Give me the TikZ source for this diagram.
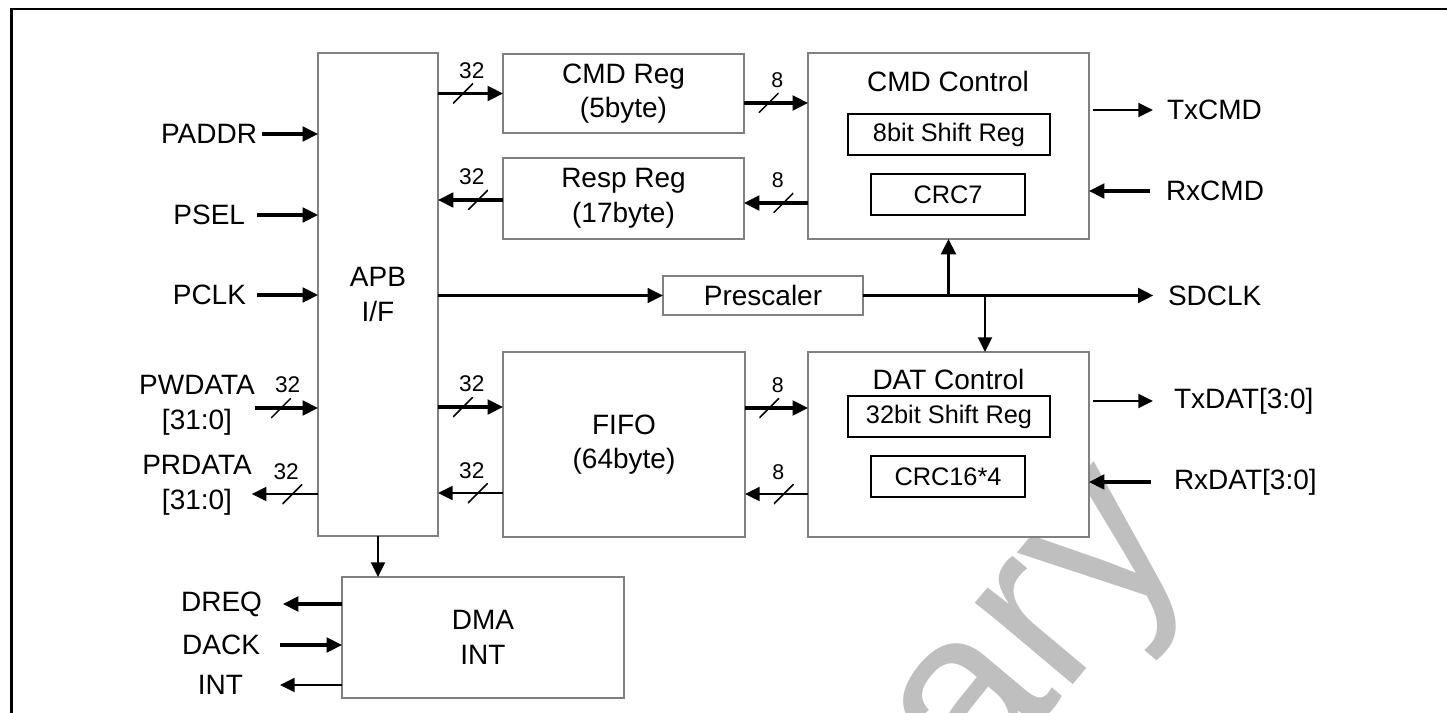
\documentclass[tikz,border=0pt]{standalone}
\usepackage{fontspec}
\setmainfont{Liberation Sans}
\usetikzlibrary{arrows.meta,positioning}

\begin{document}
\begin{tikzpicture}[x=0.75pt, y=-0.75pt,
  blk/.style={draw=black!50, fill=white, line width=0.9pt, inner sep=0pt, outer sep=0pt, align=center, font=\fontsize{21}{26}\selectfont},
  sub/.style={draw, fill=white, line width=1.4pt, inner sep=0pt, outer sep=0pt, minimum width=151.5pt, minimum height=30.75pt, font=\fontsize{19}{22}\selectfont},
  sig/.style={inner sep=0pt, outer sep=0pt, align=center, font=\fontsize{21}{26}\selectfont},
  bus/.style={-{Triangle[length=11.5pt,width=11pt]}, line width=2.3pt},
  wire/.style={-{Triangle[length=11pt,width=10.5pt]}, line width=1.5pt},
  slash/.style={pos=0.385, minimum size=15pt, inner sep=0pt, outer sep=0pt, path picture={\draw[-, line width=1.1pt] (path picture bounding box.south west) -- (path picture bounding box.north east);}},
  bw/.style={pos=0.52, above=10pt, inner sep=0pt, font=\fontsize{17}{17}\selectfont},
  b8/.style={pos=0.52, above=10pt, inner sep=0pt, font=\fontsize{16}{16}\selectfont},
  wmark/.style={text=black!25, rotate=50, anchor=base west, inner sep=0pt, font=\fontsize{181}{181}\selectfont}
]
\useasboundingbox (0,0) rectangle (1447,713);
\clip (0,0) rectangle (1447,713);

\node[wmark] (wm) at (976,800) {ary};
\draw[line width=2pt] (11.5,740) -- (11.5,9) -- (1460,9);

\node[blk, minimum width=90pt, minimum height=362.25pt] (apb) at (378,294.5) {APB\\I/F};
\node[blk, minimum width=180.75pt, minimum height=59.25pt] (cmdreg) at (623.5,93.5) {CMD Reg\\(5byte)};
\node[blk, minimum width=180.75pt, minimum height=60.75pt] (respreg) at (623.5,198.5) {Resp Reg\\(17byte)};
\node[blk, minimum width=210.75pt, minimum height=139.5pt] (cmdctl) at (948.5,146) {};
\node[sig] (cmdtitle) at (948,81) {CMD Control};
\node[sub] (shift8) at (949,134.5) {8bit Shift Reg};
\node[sub, minimum width=115.5pt] (crc7) at (948,194.5) {CRC7};
\node[blk, minimum width=150pt, minimum height=29.25pt] (presc) at (763,295.5) {Prescaler};
\node[blk, minimum width=181.5pt, minimum height=138.75pt] (fifo) at (624,444.5) {FIFO\\(64byte)};
\node[blk, minimum width=210.75pt, minimum height=138.75pt] (datctl) at (948.5,444.5) {};
\node[sig] (dattitle) at (948.5,379) {DAT Control};
\node[sub] (shift32) at (949,416.5) {32bit Shift Reg};
\node[sub, minimum width=115.5pt] (crc16) at (948,476.5) {CRC16*4};
\node[blk, minimum width=211.5pt, minimum height=90.75pt] (dma) at (483,637.5) {DMA\\INT};

\node[sig, anchor=east] (paddr) at (257,134) {PADDR};
\node[sig, anchor=east] (psel) at (245,215) {PSEL};
\node[sig, anchor=east] (pclk) at (246,295) {PCLK};
\node[sig] (pwdata) at (197,405) {PWDATA\\{[31:0]}};
\node[sig] (prdata) at (197,485.5) {PRDATA\\{[31:0]}};
\node[sig, anchor=west] (txcmd) at (1167,110) {TxCMD};
\node[sig, anchor=west] (rxcmd) at (1166,191) {RxCMD};
\node[sig, anchor=west] (sdclk) at (1168,295.5) {SDCLK};
\node[sig, anchor=west] (txdat) at (1174,401) {TxDAT[3:0]};
\node[sig, anchor=west] (rxdat) at (1174,482) {RxDAT[3:0]};
\node[sig, anchor=east] (dreq) at (262,604) {DREQ};
\node[sig, anchor=east] (dack) at (260,645) {DACK};
\node[sig, anchor=east] (intr) at (243,685) {INT};

\draw[bus, shorten <=3.75pt] (paddr) -- (apb.west |- paddr);
\draw[bus, shorten <=9pt] (psel) -- (apb.west |- psel);
\draw[bus, shorten <=8.25pt] (pclk) -- (apb.west |- pclk);
\draw[bus] (pwdata.east |- 0,408) -- (apb.west |- 0,408) node[slash, pos=.415]{} node[bw]{32};
\draw[wire] (apb.west |- 0,494) -- (prdata.east |- 0,494) node[slash]{} node[bw, pos=.48]{32};

\draw[bus] (apb.east |- cmdreg) -- (cmdreg) node[slash]{} node[bw]{32};
\draw[bus] (respreg.west |- 0,200) -- (apb.east |- 0,200) node[slash]{} node[bw, pos=.48]{32};
\draw[bus] (cmdreg.east |- 0,103) -- (cmdctl.west |- 0,103) node[slash]{} node[b8]{8};
\draw[bus] (cmdctl.west |- 0,203) -- (respreg.east |- 0,203) node[slash]{} node[b8, pos=.47]{8};
\draw[bus] (apb.east |- 0,407) -- (fifo.west |- 0,407) node[slash]{} node[bw]{32};
\draw[wire] (fifo.west |- 0,493) -- (apb.east |- 0,493) node[slash]{} node[bw, pos=.48]{32};
\draw[bus] (fifo.east |- 0,408) -- (datctl.west |- 0,408) node[slash]{} node[b8]{8};
\draw[wire] (datctl.west |- 0,494) -- (fifo.east |- 0,494) node[slash]{} node[b8, pos=.47]{8};

\draw[bus, line width=1.8pt] (apb.east |- presc) -- (presc);
\draw[bus, shorten >=11pt] (presc) -- (sdclk);
\draw[bus] (cmdctl.south |- presc) -- (cmdctl.south);
\coordinate (clktap) at (985,295.5);
\draw[wire] (clktap) -- (clktap |- datctl.north);

\draw[wire, shorten <=3pt, shorten >=10.5pt] (cmdctl.east |- txcmd) -- (txcmd);
\draw[bus, shorten <=12pt] (rxcmd) -- (cmdctl.east |- rxcmd);
\draw[wire, shorten <=3pt, shorten >=15.75pt] (datctl.east |- txdat) -- (txdat);
\draw[bus, shorten <=17pt] (rxdat) -- (datctl.east |- rxdat);

\draw[wire] (apb.south) -- (apb.south |- dma.north);
\draw[bus, shorten >=15.75pt] (dma.west |- dreq) -- (dreq);
\draw[bus, shorten <=15pt] (dack) -- (dma.west |- dack);
\draw[wire, shorten >=27.75pt] (dma.west |- intr) -- (intr);
\end{tikzpicture}
\end{document}
